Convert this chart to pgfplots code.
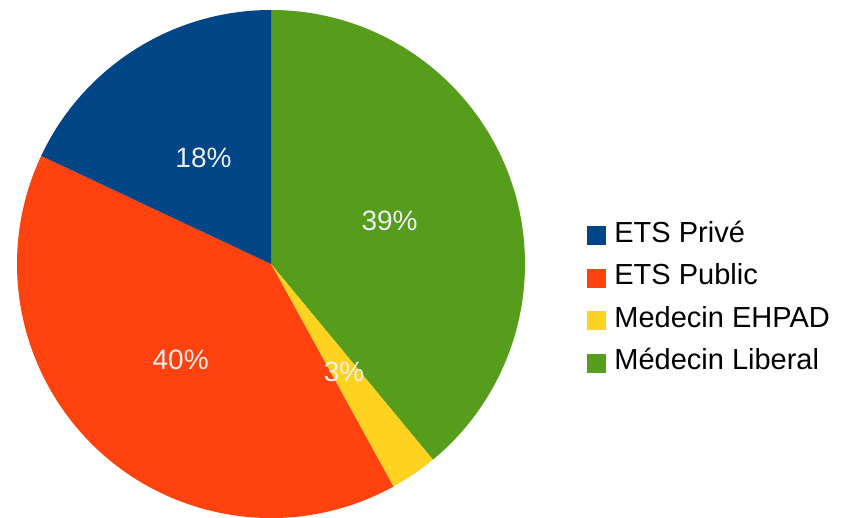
\documentclass[border=0pt]{standalone}
\usepackage{fontspec}
\setmainfont{Liberation Sans}
\usepackage{pgfplots}
\pgfplotsset{compat=1.18}
\definecolor{cPrive}{HTML}{004586}
\definecolor{cPublic}{HTML}{FF420E}
\definecolor{cEhpad}{HTML}{FFD320}
\definecolor{cLiberal}{HTML}{579D1C}
\definecolor{lbl}{HTML}{EEEEEE}
% shares in percent
\def\vPrive{18}
\def\vPublic{40}
\def\vEhpad{3}
\def\vLiberal{39}
\pgfmathsetmacro\aA{90}
\pgfmathsetmacro\aB{\aA-3.6*\vLiberal}
\pgfmathsetmacro\aC{\aB-3.6*\vEhpad}
\pgfmathsetmacro\aD{\aC-3.6*\vPublic}
\pgfmathsetmacro\aE{\aD-3.6*\vPrive}
\pgfmathsetmacro\mA{(\aA+\aB)/2}
\pgfmathsetmacro\mB{(\aB+\aC)/2}
\pgfmathsetmacro\mC{(\aC+\aD)/2}
\pgfmathsetmacro\mD{(\aD+\aE)/2}
\def\R{254pt}
\begin{document}
\begin{tikzpicture}
\begin{axis}[at={(0,0)},anchor=south west,x=1pt,y=1pt,xmin=0,xmax=845,ymin=0,ymax=518,
  hide axis,scale only axis,clip=false,
  legend style={at={(587/845,219/518)},anchor=west,draw=none,fill=none,
    font=\fontsize{29}{33}\selectfont,row sep=16.5pt,inner sep=0pt,
    nodes={inner sep=0pt,text height=20pt,text depth=6pt}},
  legend cell align=left,
  legend image code/.code={\fill[#1] (0pt,-9pt) rectangle (18pt,9pt);\path[draw=none,fill=none] (0pt,0pt) -- (27pt,0pt);}]
\fill[cLiberal] (axis cs:271,254) -- ++(\aA:\R) arc[start angle=\aA,end angle=\aB,radius=\R] -- cycle;
\fill[cEhpad] (axis cs:271,254) -- ++(\aB:\R) arc[start angle=\aB,end angle=\aC,radius=\R] -- cycle;
\fill[cPublic] (axis cs:271,254) -- ++(\aC:\R) arc[start angle=\aC,end angle=\aD,radius=\R] -- cycle;
\fill[cPrive] (axis cs:271,254) -- ++(\aD:\R) arc[start angle=\aD,end angle=\aE,radius=\R] -- cycle;
\path[font=\fontsize{28}{32}\selectfont,text=lbl]
  (axis cs:271,254) ++(\mA:126pt) node {\vLiberal\%}
  (axis cs:271,254) ++(\mB:130pt) node {\vEhpad\%}
  (axis cs:271,254) ++(\mC:132pt) node {\vPublic\%}
  (axis cs:271,254) ++(\mD:126pt) node {\vPrive\%};
\addlegendimage{cPrive}
\addlegendentry{ETS Privé}
\addlegendimage{cPublic}
\addlegendentry{ETS Public}
\addlegendimage{cEhpad}
\addlegendentry{Medecin EHPAD}
\addlegendimage{cLiberal}
\addlegendentry{Médecin Liberal}
\end{axis}
\pgfresetboundingbox
\path[use as bounding box] (0,0) rectangle (845pt,518pt);
\end{tikzpicture}
\end{document}
